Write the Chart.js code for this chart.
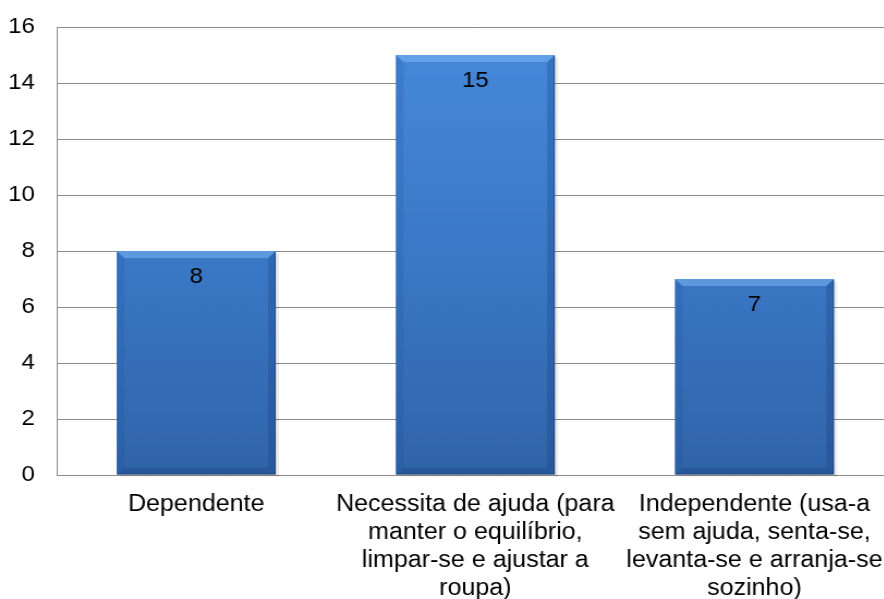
<!DOCTYPE html>
<html>
<head>
<meta charset="utf-8">
<script src="https://cdn.jsdelivr.net/npm/chart.js@4"></script>
<style>
  html, body { margin: 0; padding: 0; background: #fff; overflow: hidden; }
  #wrap { width: 884px; height: 599px; overflow: hidden; position: relative; }
  /* o original está ligeiramente esticado na horizontal */
  #chart { position: absolute; left: 0; top: 0; }
</style>
</head>
<body>
<div id="wrap"><canvas id="chart" width="826" height="603" style="width:900px;height:603px"></canvas></div>
<script>
// categorias (eixo x), em várias linhas
const categories = [
  ['Dependente'],
  ['Necessita de ajuda (para', 'manter o equilíbrio,', 'limpar-se e ajustar a', 'roupa)'],
  ['Independente (usa-a', 'sem ajuda, senta-se,', 'levanta-se e arranja-se', 'sozinho)']
];
const values = [8, 15, 7];
const yTicks = [0, 2, 4, 6, 8, 10, 12, 14, 16];

const FONT = '"Liberation Sans", Arial, sans-serif';

// rótulos de valor dentro das barras + efeito de relevo
const barDecor = {
  id: 'barDecor',
  beforeDatasetsDraw(chart) {
    // sombra suave à direita das barras
    const ctx = chart.ctx;
    chart.getDatasetMeta(0).data.forEach((bar) => {
      const right = bar.x + bar.width / 2;
      ctx.save();
      ctx.fillStyle = 'rgba(0,0,0,0.08)';
      ctx.fillRect(right, bar.y + 3, 3, bar.base - bar.y - 1);
      ctx.fillRect(bar.x - bar.width / 2 + 3, bar.base, bar.width, 2);
      ctx.restore();
    });
  },
  afterDatasetsDraw(chart) {
    const ctx = chart.ctx;
    const meta = chart.getDatasetMeta(0);
    meta.data.forEach((bar, i) => {
      const left = bar.x - bar.width / 2;
      const right = bar.x + bar.width / 2;
      const top = bar.y;
      const bottom = bar.base;
      const b = 7;
      ctx.save();
      // faixa superior clara
      ctx.fillStyle = 'rgba(130,185,245,0.5)';
      ctx.beginPath();
      ctx.moveTo(left, top); ctx.lineTo(right, top);
      ctx.lineTo(right - b, top + b); ctx.lineTo(left + b, top + b);
      ctx.closePath(); ctx.fill();
      // laterais mais escuras
      ctx.fillStyle = 'rgba(30,70,140,0.15)';
      ctx.beginPath();
      ctx.moveTo(left, top); ctx.lineTo(left + b, top + b);
      ctx.lineTo(left + b, bottom - b); ctx.lineTo(left, bottom);
      ctx.closePath(); ctx.fill();
      ctx.fillStyle = 'rgba(20,50,110,0.25)';
      ctx.beginPath();
      ctx.moveTo(right, top); ctx.lineTo(right - b, top + b);
      ctx.lineTo(right - b, bottom - b); ctx.lineTo(right, bottom);
      ctx.closePath(); ctx.fill();
      // base escura
      ctx.fillStyle = 'rgba(20,50,110,0.25)';
      ctx.beginPath();
      ctx.moveTo(left, bottom); ctx.lineTo(left + b, bottom - b);
      ctx.lineTo(right - b, bottom - b); ctx.lineTo(right, bottom);
      ctx.closePath(); ctx.fill();
      // contorno escuro fino
      ctx.strokeStyle = 'rgba(25,55,105,0.55)';
      ctx.lineWidth = 1;
      ctx.beginPath();
      ctx.moveTo(right - 0.5, top + 1); ctx.lineTo(right - 0.5, bottom - 0.5);
      ctx.lineTo(left + 0.5, bottom - 0.5);
      ctx.stroke();
      // valor
      ctx.fillStyle = '#000';
      ctx.font = '22px ' + FONT;
      ctx.textAlign = 'center';
      ctx.textBaseline = 'middle';
      ctx.fillText(String(values[i]), bar.x, top + 26);
      ctx.restore();
    });
  }
};

const ctx = document.getElementById('chart').getContext('2d');
new Chart(ctx, {
  type: 'bar',
  data: {
    labels: categories,
    datasets: [{
      data: values,
      backgroundColor: (c) => {
        const area = c.chart.chartArea;
        if (!area) return '#3f7fd0';
        const g = c.chart.ctx.createLinearGradient(0, area.top, 0, area.bottom);
        g.addColorStop(0, '#4689da');
        g.addColorStop(0.5, '#3b79c7');
        g.addColorStop(1, '#3064a9');
        return g;
      },
      borderWidth: 0,
      barPercentage: 0.57,
      categoryPercentage: 1
    }]
  },
  options: {
    responsive: false,
    maintainAspectRatio: false,
    devicePixelRatio: 1,
    animation: false,
    layout: { padding: { top: 27, right: 0, left: 0, bottom: 0 } },
    plugins: {
      legend: { display: false },
      tooltip: { enabled: false }
    },
    scales: {
      y: {
        min: 0,
        max: 16,
        afterBuildTicks: (axis) => { axis.ticks = yTicks.map(v => ({ value: v })); },
        afterFit: (axis) => {
          axis.width = 52;
          axis.paddingTop = 0;
          axis.paddingBottom = 0;
        },
        grid: { color: '#8c8c8c', lineWidth: 1, drawTicks: false },
        border: { color: '#8c8c8c' },
        ticks: {
          color: '#000',
          padding: 20,
          font: { family: FONT, size: 22 }
        }
      },
      x: {
        afterFit: (axis) => { axis.height = 128; },
        grid: { display: false, drawTicks: false },
        border: { color: '#8c8c8c' },
        ticks: {
          color: '#000',
          padding: 16,
          maxRotation: 0,
          autoSkip: false,
          font: { family: FONT, size: 23, lineHeight: 28 / 23 }
        }
      }
    }
  },
  plugins: [barDecor]
});
</script>
</body>
</html>
